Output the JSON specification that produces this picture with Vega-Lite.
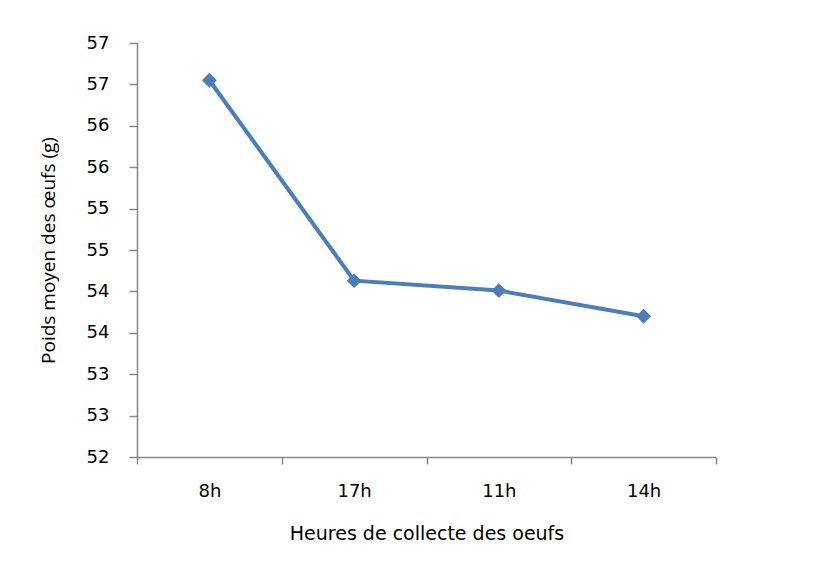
{
  "$schema": "https://vega.github.io/schema/vega-lite/v6.json",
  "width": 579,
  "height": 414,
  "autosize": {"type": "none"},
  "padding": {"left": 137, "top": 43, "right": 111, "bottom": 115},
  "background": "white",
  "config": {"view": {"stroke": null}, "font": "DejaVu Sans"},
  "data": {
    "values": [
      {"heure": "8h", "poids": 56.55},
      {"heure": "17h", "poids": 54.13},
      {"heure": "11h", "poids": 54.01},
      {"heure": "14h", "poids": 53.70}
    ]
  },
  "encoding": {
    "x": {
      "field": "heure",
      "type": "nominal",
      "sort": ["8h", "17h", "11h", "14h"],
      "scale": {"paddingInner": 0, "paddingOuter": 0},
      "axis": {
        "title": "Heures de collecte des oeufs",
        "labelAngle": 0,
        "tickBand": "extent",
        "domainColor": "#868686",
        "tickColor": "#868686",
        "domainWidth": 1.5,
        "tickWidth": 1.5,
        "tickSize": 7,
        "labelFont": "DejaVu Sans",
        "labelFontSize": 18,
        "labelColor": "#000000",
        "labelPadding": 18,
        "titleFont": "DejaVu Sans",
        "titleFontSize": 19,
        "titleFontWeight": "normal",
        "titleColor": "#000000",
        "titlePadding": 24
      }
    },
    "y": {
      "field": "poids",
      "type": "quantitative",
      "scale": {"domain": [52, 57], "nice": false, "zero": false},
      "axis": {
        "title": "Poids moyen des œufs (g)",
        "values": [52, 52.5, 53, 53.5, 54, 54.5, 55, 55.5, 56, 56.5, 57],
        "format": ".0f",
        "grid": false,
        "domainColor": "#868686",
        "tickColor": "#868686",
        "domainWidth": 1.5,
        "tickWidth": 1.5,
        "tickSize": 8,
        "labelFont": "DejaVu Sans",
        "labelFontSize": 18,
        "labelColor": "#000000",
        "labelPadding": 20,
        "titleFont": "Open Sans",
        "titleFontSize": 19,
        "titleFontWeight": "normal",
        "titleColor": "#000000",
        "titlePadding": 28
      }
    }
  },
  "layer": [
    {"mark": {"type": "line", "color": "#4a7ebb", "strokeWidth": 4}},
    {"mark": {"type": "point", "shape": "diamond", "filled": true, "color": "#4a7ebb", "opacity": 1, "size": 220}}
  ]
}
